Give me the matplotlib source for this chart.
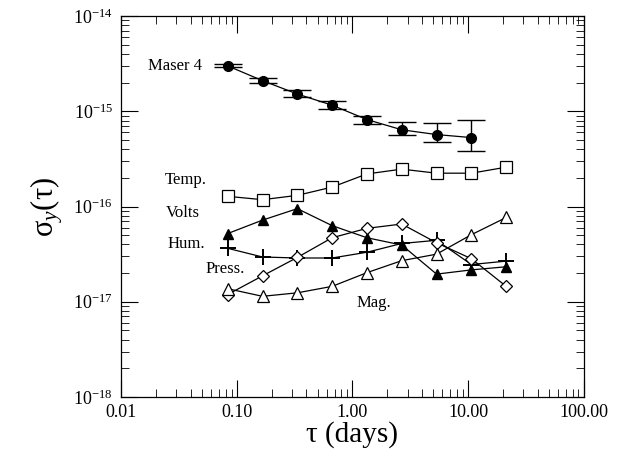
"""Frequency stability of Maser 4 and environmental contributions"""
import matplotlib
matplotlib.use("Agg")
import matplotlib.pyplot as plt
from matplotlib.ticker import LogLocator, FixedLocator, FixedFormatter, NullFormatter

plt.rcParams["font.family"] = ["Liberation Serif", "DejaVu Serif"]
plt.rcParams["mathtext.fontset"] = "custom"
plt.rcParams["mathtext.rm"] = "Liberation Serif"
plt.rcParams["mathtext.it"] = "Liberation Serif:italic"

# averaging times (days)
tau = [0.0833, 0.1667, 0.3333, 0.6667, 1.333, 2.667, 5.333, 10.67, 21.33]

# Maser 4 with error bar bounds
maser = [3.0e-15, 2.1e-15, 1.52e-15, 1.16e-15, 8.2e-16, 6.4e-16, 5.7e-16, 5.3e-16]
maser_hi = [3.13e-15, 2.22e-15, 1.66e-15, 1.28e-15, 8.97e-16, 7.7e-16, 7.6e-16, 8.1e-16]
maser_lo = [2.94e-15, 2.0e-15, 1.43e-15, 1.07e-15, 7.3e-16, 5.6e-16, 4.75e-16, 3.85e-16]

temp = [1.28e-16, 1.18e-16, 1.31e-16, 1.6e-16, 2.2e-16, 2.47e-16, 2.24e-16, 2.24e-16, 2.59e-16]
volts = [5.2e-17, 7.2e-17, 9.5e-17, 6.3e-17, 4.7e-17, 3.94e-17, 1.95e-17, 2.16e-17, 2.33e-17]
hum = [3.64e-17, 2.95e-17, 2.88e-17, 2.88e-17, 3.31e-17, 4.09e-17, 4.42e-17, 2.46e-17, 2.67e-17]
press = [1.19e-17, 1.87e-17, 2.92e-17, 4.7e-17, 5.9e-17, 6.55e-17, 4.16e-17, 2.83e-17, 1.45e-17]
mag = [1.37e-17, 1.14e-17, 1.24e-17, 1.45e-17, 2.02e-17, 2.7e-17, 3.16e-17, 5.06e-17, 7.67e-17]

x_ticks = [0.01, 0.1, 1, 10, 100]
x_labels = ["0.01", "0.10", "1.00", "10.00", "100.00"]
y_ticks = [1e-18, 1e-17, 1e-16, 1e-15, 1e-14]
y_labels = ["10$^{-18}$", "10$^{-17}$", "10$^{-16}$", "10$^{-15}$", "10$^{-14}$"]

fig = plt.figure(figsize=(6.38, 4.61), dpi=100)
ax = fig.add_axes([0.19, 0.139, 0.725, 0.826])

n = len(maser)
yerr = [[m - lo for m, lo in zip(maser, maser_lo)],
        [hi - m for m, hi in zip(maser, maser_hi)]]
ax.errorbar(tau[:n], maser, yerr=yerr, color="black", marker="o", ms=7,
            lw=0.9, elinewidth=1.0, capsize=10, capthick=1.0)
ax.plot(tau, temp, color="black", lw=0.9, marker="s", ms=9, mfc="white", mew=0.9)
ax.plot(tau, volts, color="black", lw=0.9, marker="^", ms=7, mfc="black")
ax.plot(tau, hum, color="black", lw=0.9, marker="+", ms=11, mew=1.4)
ax.plot(tau, press, color="black", lw=0.9, marker="D", ms=6.5, mfc="white", mew=0.9)
ax.plot(tau, mag, color="black", lw=0.9, marker="^", ms=8, mfc="white", mew=0.9)

# series labels
fs = 12
ax.text(0.0171, 3.0e-15, "Maser 4", fontsize=fs, va="center")
ax.text(0.024, 1.9e-16, "Temp.", fontsize=fs, va="center")
ax.text(0.0245, 8.6e-17, "Volts", fontsize=fs, va="center")
ax.text(0.025, 4.0e-17, "Hum.", fontsize=fs, va="center")
ax.text(0.054, 2.19e-17, "Press.", fontsize=fs, va="center")
ax.text(1.09, 9.6e-18, "Mag.", fontsize=fs, va="center")

ax.set_xscale("log")
ax.set_yscale("log")
ax.set_xlim(0.01, 100)
ax.set_ylim(1e-18, 1e-14)
ax.xaxis.set_major_locator(FixedLocator(x_ticks))
ax.xaxis.set_major_formatter(FixedFormatter(x_labels))
ax.yaxis.set_major_locator(FixedLocator(y_ticks))
ax.yaxis.set_major_formatter(FixedFormatter(y_labels))
ax.xaxis.set_minor_locator(LogLocator(base=10, subs=range(2, 10)))
ax.xaxis.set_minor_formatter(NullFormatter())
ax.yaxis.set_minor_locator(LogLocator(base=10, subs=range(2, 10)))
ax.yaxis.set_minor_formatter(NullFormatter())

ax.tick_params(which="both", direction="in", top=True, right=True, labelsize=13)
ax.tick_params(which="major", length=12, width=0.8)
ax.tick_params(which="minor", length=6, width=0.6)
ax.tick_params(axis="x", pad=5)
ax.tick_params(axis="y", pad=6)
for s in ax.spines.values():
    s.set_linewidth(0.9)

ax.set_xlabel("τ (days)", fontsize=21, labelpad=0)
ax.set_ylabel("σ$_y$(τ)", fontsize=22, labelpad=6)

fig.savefig("out.png", dpi=100)
